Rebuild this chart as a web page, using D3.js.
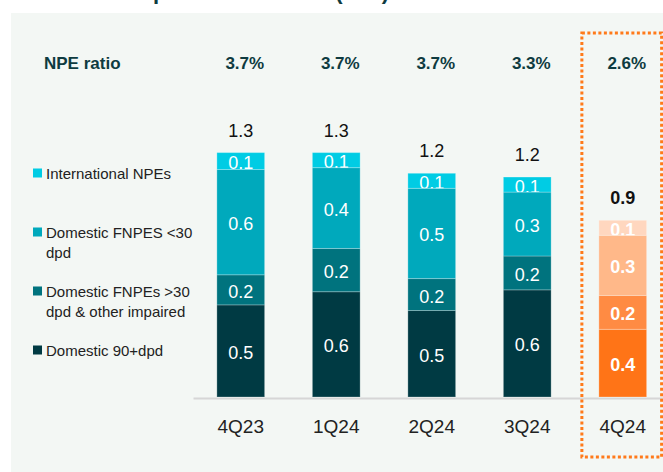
<!DOCTYPE html>
<html lang="en">
<head>
<meta charset="utf-8">
<title>NPE breakdown</title>
<script src="https://cdnjs.cloudflare.com/ajax/libs/d3/7.8.5/d3.min.js"></script>
<style>
  body { margin: 0; background: #fff; }
</style>
</head>
<body>
<div id="canvas"></div>
<script>
// data (€bn), bottom segment first
const quarters = ["4Q23", "1Q24", "2Q24", "3Q24", "4Q24"];
const npeRatio = ["3.7%", "3.7%", "3.7%", "3.3%", "2.6%"];
const domestic90 = [0.49, 0.56, 0.46, 0.57, 0.36];
const domesticOver30 = [0.16, 0.23, 0.17, 0.18, 0.18];
const domesticUnder30 = [0.56, 0.43, 0.48, 0.34, 0.32];
const international = [0.09, 0.08, 0.08, 0.08, 0.08];
const keys = ["d90", "over30", "under30", "intl"];
const legendLines = [
  ["International NPEs"],
  ["Domestic FNPES <30", "dpd"],
  ["Domestic FNPEs >30", "dpd & other impaired"],
  ["Domestic 90+dpd"]
];
const legendKeys = ["intl", "under30", "over30", "d90"];

const tealColors = { d90: "#003a43", over30: "#00737e", under30: "#00a9bc", intl: "#00cce4" };
const orangeColors = { d90: "#ff7417", over30: "#ff8b43", under30: "#ffb889", intl: "#ffd7bf" };
const highlight = "4Q24";

const width = 663, height = 472;
const font = "'Liberation Sans', Arial, sans-serif";
const fmt = d3.format(".1f");

const rows = quarters.map((q, i) => ({
  q, d90: domestic90[i], over30: domesticOver30[i], under30: domesticUnder30[i], intl: international[i]
}));
const stacked = d3.stack().keys(keys)(rows);

const x = d3.scaleBand().domain(quarters).range([193, 670.5]).paddingInner(0.5).paddingOuter(0.25);
const y = d3.scaleLinear().domain([0, 1.3]).range([397, 152.6]);

const svg = d3.select("#canvas").append("svg")
    .attr("width", width)
    .attr("height", height)
    .attr("font-family", font);

// title, mostly cut off by the top edge as in the source slide
svg.append("text")
    .attr("x", 389).attr("y", -1)
    .attr("text-anchor", "end")
    .attr("font-size", 22).attr("font-weight", "bold")
    .attr("fill", "#0e3b40")
    .text("Composition of NPEs (€bn)");

svg.append("rect")
    .attr("x", 11).attr("y", 13)
    .attr("width", width - 11).attr("height", height - 13)
    .attr("fill", "#f3f7f4");

// NPE ratio row
svg.append("text")
    .attr("x", 44).attr("y", 63)
    .attr("dominant-baseline", "central")
    .attr("font-size", 17).attr("font-weight", "bold")
    .attr("fill", "#0e3b40")
    .text("NPE ratio");

svg.append("g").selectAll("text")
  .data(quarters)
  .join("text")
    .attr("x", d => x(d) + x.bandwidth() / 2 + 4)
    .attr("y", 63)
    .attr("text-anchor", "middle")
    .attr("dominant-baseline", "central")
    .attr("font-size", 17).attr("font-weight", "bold")
    .attr("fill", "#0e3b40")
    .text((d, i) => npeRatio[i]);

// axis
const axis = svg.append("g")
    .attr("transform", `translate(0,${y(0) + 1})`)
    .call(d3.axisBottom(x).tickSize(0));
axis.select(".domain").attr("stroke", "#d6d6d6").attr("stroke-width", 2);
axis.selectAll("text")
    .attr("y", 28)
    .attr("dy", "0.35em")
    .attr("font-size", 19)
    .attr("font-family", font)
    .attr("fill", "#222");

// stacked bars
const uid = "seg";
const segs = [];
stacked.forEach(layer => {
  layer.forEach(d => segs.push({ key: layer.key, q: d.data.q, y0: d[0], y1: d[1] }));
});

const defs = svg.append("defs");
defs.selectAll("clipPath")
  .data(segs)
  .join("clipPath")
    .attr("id", (d, i) => `${uid}-${i}`)
  .append("rect")
    .attr("x", d => x(d.q))
    .attr("y", d => y(d.y1))
    .attr("width", x.bandwidth())
    .attr("height", d => y(d.y0) - y(d.y1));

svg.append("g").selectAll("rect")
  .data(segs)
  .join("rect")
    .attr("x", d => x(d.q))
    .attr("y", d => y(d.y1))
    .attr("width", x.bandwidth())
    .attr("height", d => y(d.y0) - y(d.y1))
    .attr("fill", d => (d.q === highlight ? orangeColors : tealColors)[d.key])
    .attr("stroke", "#ffffff")
    .attr("stroke-opacity", 0.25)
    .attr("stroke-width", 1);

svg.append("g").selectAll("text")
  .data(segs)
  .join("text")
    .attr("clip-path", (d, i) => `url(#${uid}-${i})`)
    .attr("x", d => x(d.q) + x.bandwidth() / 2)
    .attr("y", d => (y(d.y0) + y(d.y1)) / 2 + 2)
    .attr("text-anchor", "middle")
    .attr("dominant-baseline", "central")
    .attr("font-size", 18)
    .attr("font-weight", d => d.q === highlight ? "bold" : null)
    .attr("fill", "#fff")
    .text(d => fmt(d.y1 - d.y0));

// totals
svg.append("g").selectAll("text")
  .data(rows)
  .join("text")
    .attr("x", d => x(d.q) + x.bandwidth() / 2)
    .attr("y", d => y(d.d90 + d.over30 + d.under30 + d.intl) - 22)
    .attr("text-anchor", "middle")
    .attr("dominant-baseline", "central")
    .attr("font-size", 18)
    .attr("font-weight", d => d.q === highlight ? "bold" : null)
    .attr("fill", "#111")
    .text(d => fmt(d.d90 + d.over30 + d.under30 + d.intl));

// legend
const legend = svg.append("g").selectAll("g")
  .data(legendKeys)
  .join("g")
    .attr("transform", (d, i) => `translate(33,${173 + i * 59})`);

legend.append("rect")
    .attr("y", -4.5)
    .attr("width", 9).attr("height", 9)
    .attr("fill", d => tealColors[d]);

legend.append("text")
    .attr("font-size", 15)
    .attr("fill", "#222")
  .selectAll("tspan")
  .data((d, i) => legendLines[i])
  .join("tspan")
    .attr("x", 13)
    .attr("y", (d, i) => i * 20.5)
    .attr("dominant-baseline", "central")
    .text(d => d);

// dotted highlight box
svg.append("rect")
    .attr("x", x(highlight) - 17)
    .attr("y", 33)
    .attr("width", x.bandwidth() + 32)
    .attr("height", 424)
    .attr("fill", "none")
    .attr("stroke", "#ff7a1a")
    .attr("stroke-width", 3)
    .attr("stroke-dasharray", "3,2.5");
</script>
</body>
</html>
